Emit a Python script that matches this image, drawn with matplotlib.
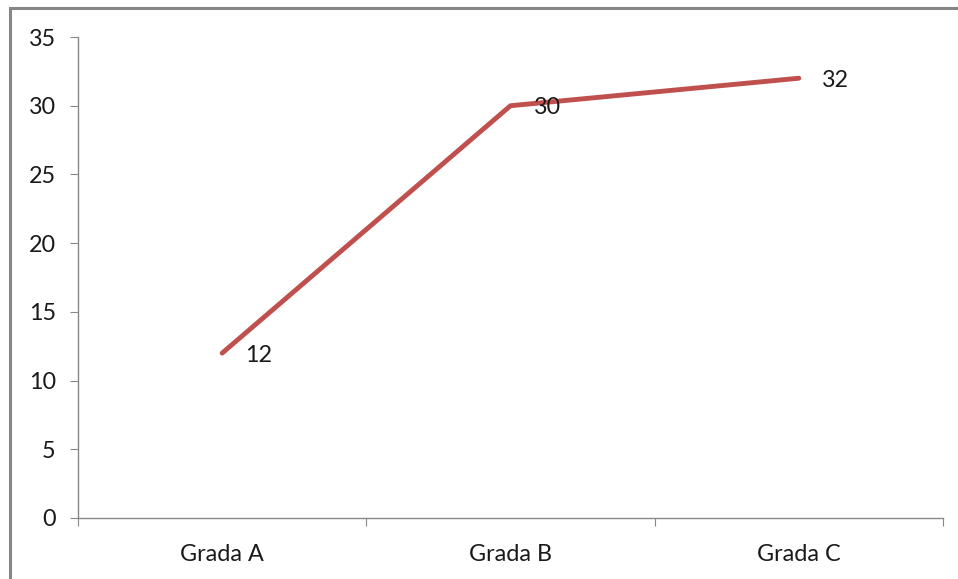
import matplotlib.pyplot as plt
from matplotlib.patches import Rectangle

# Dados
gradas = ['Grada A', 'Grada B', 'Grada C']
valores = [12, 30, 32]

plt.rcParams['font.family'] = ['Lato', 'DejaVu Sans']
tamanho = 16.8

fig = plt.figure(figsize=(9.58, 5.79), dpi=100)
ax = fig.add_axes([78 / 958, 1 - 518 / 579, (943 - 78) / 958, (518 - 37) / 579])

x = range(len(gradas))
ax.plot(x, valores, color='#c0504d', linewidth=3.5, solid_capstyle='round', solid_joinstyle='round')

# Rótulos de valor
for xi, v in zip(x, valores):
    ax.annotate(str(v), (xi, v), xytext=(23, -2), textcoords='offset pixels',
                ha='left', va='center', fontsize=tamanho, color='#1a1a1a')

ax.set_xlim(-0.5, len(gradas) - 0.5)
ax.set_ylim(0, 35)
ax.set_yticks(range(0, 36, 5))
ax.set_xticks([i + 0.5 for i in range(-1, len(gradas))])
ax.set_xticklabels([])
ax.set_xticks(list(x), minor=True)
ax.set_xticklabels(gradas, minor=True)
ax.tick_params(axis='x', which='major', length=6, direction='out', color='#888888')
ax.tick_params(axis='x', which='minor', length=0, pad=19, labelsize=tamanho, labelcolor='#1a1a1a')
ax.tick_params(axis='y', length=6, color='#888888', pad=10, labelsize=tamanho, labelcolor='#1a1a1a')

for s in ['top', 'right']:
    ax.spines[s].set_visible(False)
for s in ['left', 'bottom']:
    ax.spines[s].set_color('#888888')
    ax.spines[s].set_linewidth(1)

# Moldura do gráfico
fig.patches.append(Rectangle((9.5 / 958, -0.1), 1.2, 1.1 - 7.5 / 579, transform=fig.transFigure,
                             fill=False, edgecolor='#868686', linewidth=2.2))

fig.savefig('out.png', dpi=100)
